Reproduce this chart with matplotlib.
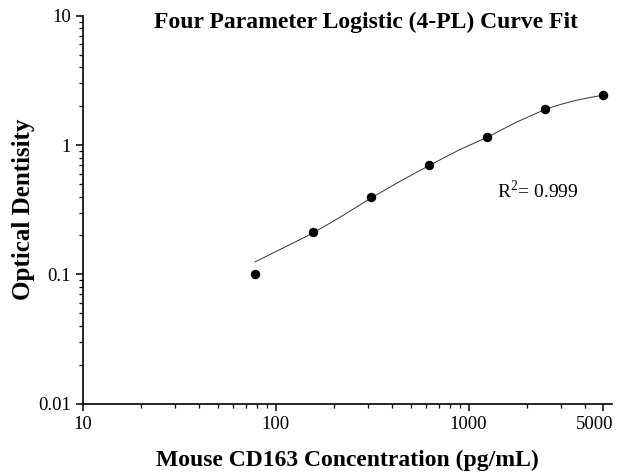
import matplotlib
matplotlib.use("Agg")
import matplotlib.pyplot as plt
import matplotlib.transforms as mtransforms
from matplotlib.ticker import LogLocator, FixedLocator, FixedFormatter, NullFormatter

# standard points
conc = [78.125, 156.25, 312.5, 625, 1250, 2500, 5000]
od = [0.101, 0.211, 0.40, 0.70, 1.15, 1.90, 2.43]

# fitted curve
curve_x = [78.1, 110, 156.25, 221, 312.5, 442, 625, 884, 1250, 1768, 2500, 3000, 3536, 4200, 5000]
curve_y = [0.125, 0.161, 0.209, 0.283, 0.39, 0.525, 0.695, 0.91, 1.15, 1.50, 1.89, 2.06, 2.20, 2.32, 2.43]

x_ticks = [10, 100, 1000, 5000]
x_labels = ['10', '100', '1000', '5000']
y_ticks = [0.01, 0.1, 1, 10]
y_labels = ['0.01', '0.1', '1', '10']

plt.rcParams['font.family'] = ['Liberation Serif', 'DejaVu Serif']
plt.rcParams['mathtext.fontset'] = 'custom'
plt.rcParams['mathtext.rm'] = 'Liberation Serif'

fig = plt.figure(figsize=(6.18, 4.74), dpi=100)
ax = fig.add_axes([0.134, 0.148, 0.856, 0.819])

ax.plot(curve_x, curve_y, color='#333333', lw=0.7)
ax.plot(conc, od, 'o', color='black', ms=5.8)

ax.set_xscale('log')
ax.set_yscale('log')
ax.set_xlim(10, 5530)
ax.set_ylim(0.01, 10)

ax.xaxis.set_major_locator(FixedLocator(x_ticks))
ax.xaxis.set_major_formatter(FixedFormatter(x_labels))
ax.xaxis.set_minor_locator(LogLocator(base=10, subs=range(2, 10)))
ax.xaxis.set_minor_formatter(NullFormatter())
ax.yaxis.set_major_locator(FixedLocator(y_ticks))
ax.yaxis.set_major_formatter(FixedFormatter(y_labels))
ax.yaxis.set_minor_locator(LogLocator(base=10, subs=range(2, 10)))
ax.yaxis.set_minor_formatter(NullFormatter())

for side in ['top', 'right']:
    ax.spines[side].set_visible(False)
for side in ['left', 'bottom']:
    ax.spines[side].set_linewidth(1.2)

ax.tick_params(which='major', length=5, width=1.1, labelsize=13.5, direction='out')
ax.tick_params(which='minor', length=3, width=0.9, direction='out')

# the 5000 label sits a little left of its tick
fig.canvas.draw()
shift = mtransforms.ScaledTranslation(-9 / 100, 0, fig.dpi_scale_trans)
for lab in ax.get_xticklabels():
    if lab.get_text() == '5000':
        lab.set_transform(lab.get_transform() + shift)

ax.set_xlabel('Mouse CD163 Concentration (pg/mL)', fontsize=17, fontweight='bold', labelpad=12)
ax.set_ylabel('Optical Dentisity', fontsize=18, fontweight='bold', labelpad=2)

fig.text(0.592, 0.953, 'Four Parameter Logistic (4-PL) Curve Fit', fontsize=17,
         fontweight='bold', ha='center', va='center')

ax.text(1400, 0.44, r'R$^{2}$= 0.999', fontsize=14, ha='left', va='center')

fig.savefig('out.png', dpi=100)
